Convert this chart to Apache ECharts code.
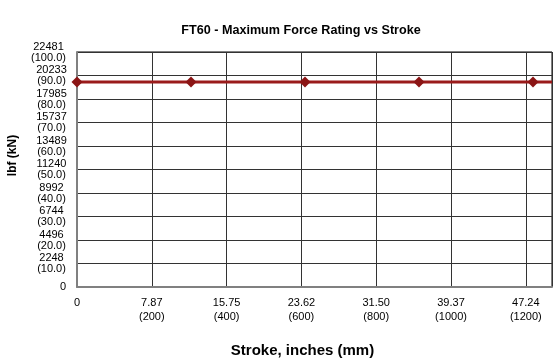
<!DOCTYPE html>
<html>
<head>
<meta charset="utf-8">
<script src="https://cdn.jsdelivr.net/npm/echarts@6/dist/echarts.min.js"></script>
<style>html,body{margin:0;padding:0;background:#fff;}#c{width:555px;height:360px;}</style>
</head>
<body>
<div id="c"></div>
<script>
var strokeMm = [0, 304.8, 609.6, 914.4, 1219.2, 1270];
var forceKN = [87.2, 87.2, 87.2, 87.2, 87.2, 87.2];
var showMarker = [true, true, true, true, true, false];
var xTickMm = [0, 200, 400, 600, 800, 1000, 1200];
var xTickInches = ['0', '7.87', '15.75', '23.62', '31.50', '39.37', '47.24'];
var yTickKN = [0, 10, 20, 30, 40, 50, 60, 70, 80, 90, 100];
var yTickLbf = ['0', '2248', '4496', '6744', '8992', '11240', '13489', '15737', '17985', '20233', '22481'];

var font = 'Liberation Sans, Arial, sans-serif';
var chart = echarts.init(document.getElementById('c'), null, {renderer: 'canvas'});
var data = strokeMm.map(function (x, i) {
  return {value: [x, forceKN[i]], symbol: showMarker[i] ? 'diamond' : 'none'};
});
var lblStyle = {fontFamily: font, fontSize: 11, color: '#000', lineHeight: 11, align: 'center'};
chart.setOption({
  animation: false,
  backgroundColor: '#fff',
  title: {
    text: 'FT60 - Maximum Force Rating vs Stroke',
    left: 296, top: 19, textAlign: 'center',
    textStyle: {fontFamily: font, fontSize: 12.6, fontWeight: 'bold', color: '#000'}
  },
  grid: {left: 77, right: 3, top: 52, bottom: 73, containLabel: false, outerBoundsMode: 'none',
         show: true, borderColor: '#000', borderWidth: 1},
  xAxis: {
    type: 'value', min: 0, max: 1270, interval: 200,
    name: 'Stroke, inches (mm)', nameLocation: 'middle', nameGap: 56,
    nameTextStyle: {fontFamily: font, fontSize: 15, fontWeight: 'bold', color: '#000', padding: [0, 24, 0, 0]},
    axisLine: {show: true, lineStyle: {color: '#808080', width: 2}},
    axisTick: {show: false},
    splitLine: {show: true, lineStyle: {color: '#333', width: 1}},
    axisLabel: {
      showMaxLabel: false, margin: 9,
      fontFamily: font, fontSize: 11, color: '#000', lineHeight: 14,
      formatter: function (v) {
        var i = xTickMm.indexOf(v);
        if (i < 0) return '';
        if (v === 0) return xTickInches[i] + '\n ';
        return xTickInches[i] + '\n(' + v + ')';
      }
    }
  },
  yAxis: {
    type: 'value', min: 0, max: 100, interval: 10,
    name: 'lbf (kN)', nameLocation: 'middle', nameGap: 58, nameRotate: 90,
    nameTextStyle: {fontFamily: font, fontSize: 12, fontWeight: 'bold', color: '#000', padding: [0, 0, 0, 28]},
    axisLine: {show: true, lineStyle: {color: '#808080', width: 2}},
    axisTick: {show: false},
    splitLine: {show: true, lineStyle: {color: '#333', width: 1}},
    axisLabel: {
      margin: 11, fontFamily: font, fontSize: 11, color: '#000', lineHeight: 11,
      rich: {
        a: Object.assign({width: 29}, lblStyle),
        b: Object.assign({width: 35}, lblStyle)
      },
      formatter: function (v) {
        var i = yTickKN.indexOf(v);
        if (i < 0) return '';
        if (v === 0) return yTickLbf[i];
        var k = v >= 100 ? 'b' : 'a';
        return '{' + k + '|' + yTickLbf[i] + '}\n{' + k + '|(' + v.toFixed(1) + ')}';
      }
    }
  },
  series: [{
    type: 'line',
    data: data,
    symbolSize: 11,
    showAllSymbol: true,
    lineStyle: {color: '#9a1b1b', width: 3},
    itemStyle: {color: '#8b1515'},
    clip: false
  }]
});
</script>
</body>
</html>
